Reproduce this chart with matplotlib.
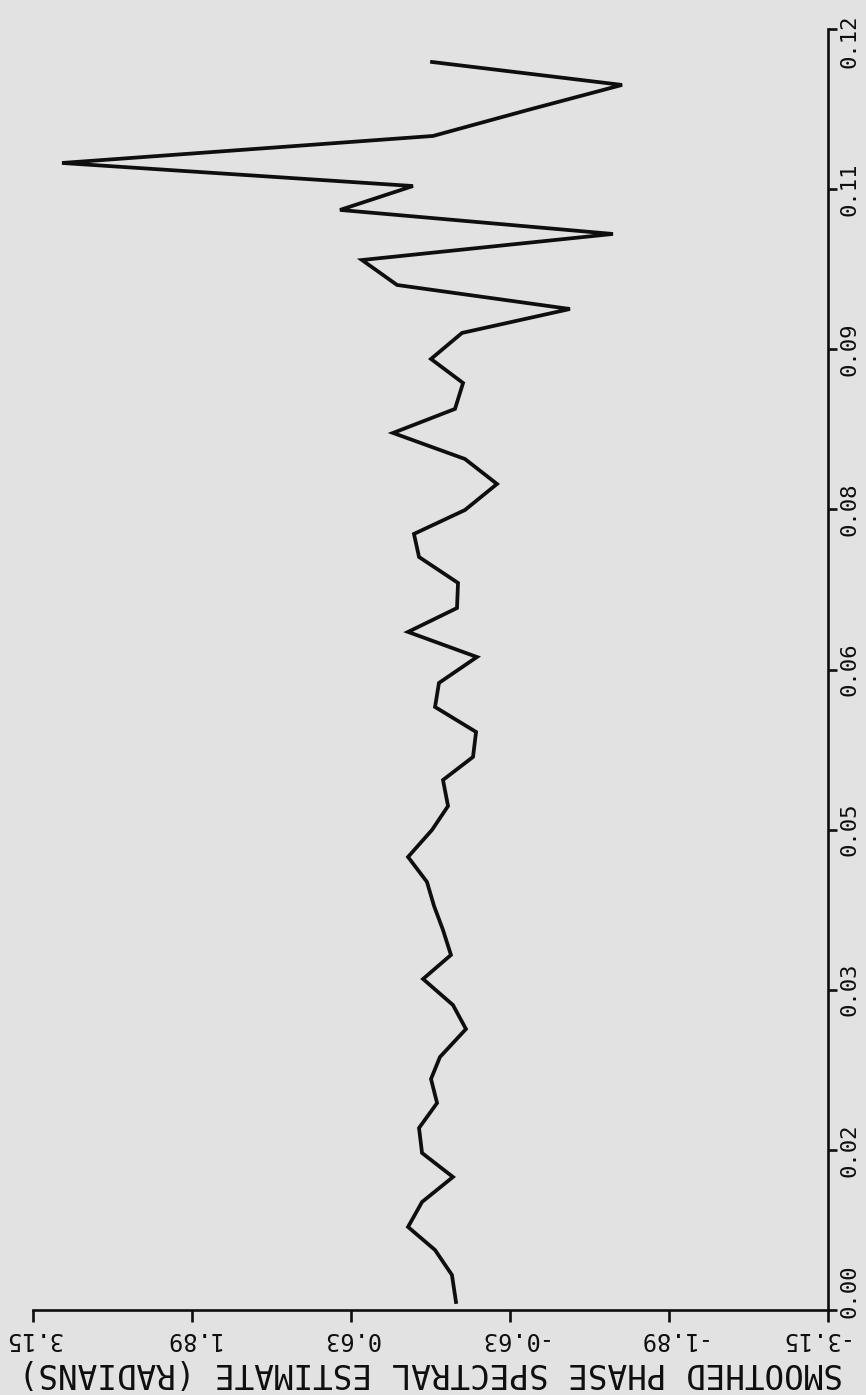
import matplotlib
matplotlib.use("Agg")
import matplotlib.pyplot as plt
from matplotlib.transforms import ScaledTranslation

# Data read from the (rotated) reference: frequency vs smoothed phase (radians)
freq = [0.00075, 0.00328, 0.00562, 0.00778, 0.01012, 0.01246, 0.01471, 0.01705,
        0.01939, 0.02164, 0.02370, 0.02632, 0.02857, 0.03101, 0.03326, 0.03560,
        0.03785, 0.04010, 0.04244, 0.04497, 0.04721, 0.04965, 0.05181, 0.05415,
        0.05649, 0.05874, 0.06117, 0.06352, 0.06576, 0.06811, 0.07054, 0.07270,
        0.07494, 0.07738, 0.07972, 0.08216, 0.08441, 0.08684, 0.08909, 0.09153,
        0.09377, 0.09602, 0.09836, 0.10080, 0.10305, 0.10529, 0.10745, 0.10998,
        0.11242, 0.11476, 0.11691]
phase = [-0.202, -0.170, -0.036, 0.178, 0.067, -0.178, 0.067, 0.091,
         -0.052, -0.004, -0.075, -0.281, -0.178, 0.059, -0.162, -0.099,
         -0.028, 0.028, 0.178, -0.012, -0.139, -0.099, -0.337, -0.361,
         -0.036, -0.067, -0.368, 0.178, -0.210, -0.218, 0.091, 0.131,
         -0.273, -0.527, -0.273, 0.297, -0.194, -0.258, -0.004, -0.250,
         -1.105, 0.265, 0.543, -1.446, 0.717, 0.139, 2.920, -0.020,
         -0.773, -1.518, -0.012]

phase_ticks = [3.15, 1.89, 0.63, -0.63, -1.89, -3.15]
phase_labels = ["3.15", "1.89", "0.63", "-0.63", "-1.89", "-3.15"]
freq_ticks = [0.0, 0.015, 0.03, 0.045, 0.06, 0.075, 0.09, 0.105, 0.12]
freq_labels = ["0.00", "0.02", "0.03", "0.05", "0.06", "0.08", "0.09", "0.11", "0.12"]
ylabel_text = "SMOOTHED PHASE SPECTRAL ESTIMATE (RADIANS)"

bg = "#e2e2e2"
ink = "#0e0e0e"
W, H = 866, 1395
fig = plt.figure(figsize=(W / 100, H / 100), dpi=100, facecolor=bg)
ax = fig.add_axes([33 / W, (H - 1310) / H, 795 / W, 1281 / H], facecolor=bg)

ax.plot(phase, freq, color=ink, linewidth=2.7, solid_joinstyle="miter")

ax.set_xlim(3.15, -3.15)
ax.set_ylim(0.0, 0.12)

for s in ["top", "left"]:
    ax.spines[s].set_visible(False)
for s in ["right", "bottom"]:
    ax.spines[s].set_linewidth(1.9)
    ax.spines[s].set_color(ink)

ax.yaxis.tick_right()
ax.set_xticks(phase_ticks)
ax.set_xticklabels(phase_labels, rotation=180, family="DejaVu Sans Mono",
                   fontsize=17, color=ink)
ax.set_yticks(freq_ticks)
ax.set_yticklabels(freq_labels, rotation=90, va="center", family="DejaVu Sans Mono",
                   fontsize=16, color=ink)
ax.tick_params(axis="x", direction="out", length=8.5, width=1.9, pad=4, colors=ink)
ax.tick_params(axis="y", direction="out", length=6.5, width=1.9, pad=1.5, colors=ink)

# end labels nudged like in the reference (kept clear of the corner / top edge)
xl = ax.get_xticklabels()
xl[-1].set_transform(xl[-1].get_transform() + ScaledTranslation(-0.17, 0, fig.dpi_scale_trans))
yl = ax.get_yticklabels()
yl[0].set_transform(yl[0].get_transform() + ScaledTranslation(0, 0.19, fig.dpi_scale_trans))
yl[-1].set_transform(yl[-1].get_transform() + ScaledTranslation(0, -0.12, fig.dpi_scale_trans))

ax.set_xlabel(ylabel_text, rotation=180, family="DejaVu Sans Mono", fontsize=23.5,
              color=ink, labelpad=3)

fig.savefig("out.png", dpi=100, facecolor=bg)
